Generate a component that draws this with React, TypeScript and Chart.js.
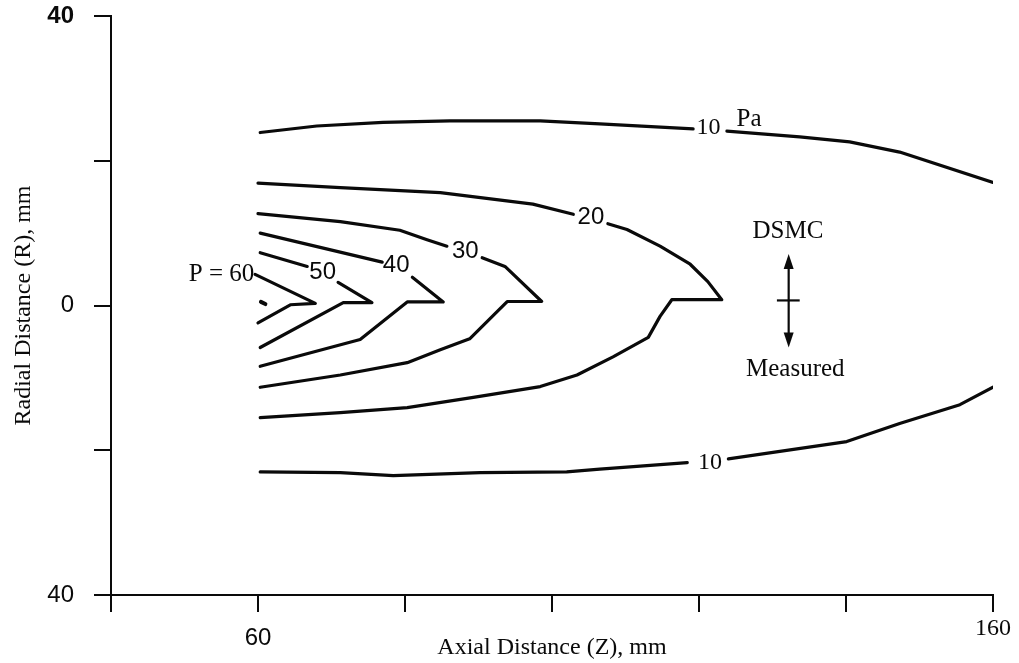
import React, { useEffect, useRef } from "react";
import { Chart, registerables } from "chart.js";

Chart.register(...registerables);

type Pt = [number, number];

// Pressure contours, [axial distance Z (mm), radial distance R (mm)].
// Each contour is broken where its level label sits on the line.
const p10UpperLeft: Pt[] = [[60.3, 23.9], [68.0, 24.8], [77.0, 25.3], [86.1, 25.5], [98.4, 25.5], [106.5, 25.1], [119.2, 24.4]];
const p10UpperRight: Pt[] = [[123.8, 24.1], [133.7, 23.3], [140.5, 22.6], [147.3, 21.2], [160.0, 17.0]];
const p10LowerLeft: Pt[] = [[60.3, -23.0], [71.2, -23.1], [78.4, -23.5], [90.2, -23.1], [102.0, -23.0], [106.5, -22.6], [118.4, -21.7]];
const p10LowerRight: Pt[] = [[124.0, -21.2], [140.1, -18.8], [147.3, -16.3], [155.5, -13.7], [160.0, -11.3]];

const p20Left: Pt[] = [[60.0, 16.9], [71.2, 16.3], [84.8, 15.6], [97.4, 14.0], [102.9, 12.6]];
const p20Right: Pt[] = [[107.6, 11.3], [110.2, 10.5], [114.7, 8.2], [118.8, 5.7], [121.2, 3.3], [123.1, 0.8], [116.3, 0.8], [114.7, -1.5], [113.1, -4.4], [108.3, -7.1], [103.4, -9.6], [98.4, -11.2], [89.3, -12.7], [80.3, -14.1], [71.2, -14.8], [60.3, -15.5]];

const p30Left: Pt[] = [[60.0, 12.7], [71.2, 11.6], [79.3, 10.4], [83.0, 9.1], [85.7, 8.2]];
const p30Right: Pt[] = [[90.5, 6.6], [93.6, 5.4], [98.6, 0.55], [93.9, 0.55], [88.8, -4.6], [84.8, -6.1], [80.3, -7.9], [71.2, -9.6], [60.3, -11.3]];

const p40Left: Pt[] = [[60.3, 10.0], [76.9, 6.0]];
const p40Right: Pt[] = [[81.0, 3.9], [85.2, 0.5], [80.3, 0.5], [73.9, -4.7], [60.3, -8.4]];

const p50Left: Pt[] = [[60.3, 7.3], [66.7, 5.4]];
const p50Right: Pt[] = [[70.9, 3.2], [75.5, 0.4], [71.6, 0.4], [60.3, -5.8]];

const p60: Pt[] = [[59.6, 4.3], [67.8, 0.3], [64.4, 0.1], [60.0, -2.4]];
const p70: Pt[] = [[60.4, 0.5], [61.0, 0.2]];

const contourSegments: Pt[][] = [
  p10UpperLeft, p10UpperRight, p10LowerLeft, p10LowerRight,
  p20Left, p20Right, p30Left, p30Right,
  p40Left, p40Right, p50Left, p50Right, p60, p70,
];

// Axis ticks
const zTicksLabelled = [60, 160];
const rTicksLabelled = [40, 0, -40];

const SANS = "'Liberation Sans', Arial, sans-serif";
const SERIF = "'Liberation Serif', 'Times New Roman', serif";
const INK = "#0a0a0a";

// Contour level labels placed on the lines
type Label = { text: string; z: number; r: number; font: string; align?: CanvasTextAlign };
const levelLabels: Label[] = [
  { text: "10", z: 121.3, r: 24.6, font: `24px ${SERIF}` },
  { text: "Pa", z: 126.8, r: 25.7, font: `25px ${SERIF}` },
  { text: "10", z: 121.5, r: -21.7, font: `24px ${SERIF}` },
  { text: "20", z: 105.3, r: 12.2, font: `24px ${SANS}` },
  { text: "30", z: 88.2, r: 7.5, font: `24px ${SANS}` },
  { text: "40", z: 78.8, r: 5.6, font: `24px ${SANS}` },
  { text: "50", z: 68.8, r: 4.6, font: `24px ${SANS}` },
  { text: "P = 60", z: 59.5, r: 4.3, font: `25px ${SERIF}`, align: "right" },
  { text: "DSMC", z: 132.1, r: 10.2, font: `25px ${SERIF}` },
  { text: "Measured", z: 133.1, r: -8.9, font: `25px ${SERIF}` },
];

// Direction marker between the DSMC (upper) and measured (lower) halves
const markerZ = 132.2;
const markerTopR = 7.1;
const markerBottomR = -5.8;
const markerBarR = 0.7;
const markerBarZ: [number, number] = [130.6, 133.7];

const annotations = {
  id: "contourAnnotations",
  afterDatasetsDraw(chart: any) {
    const { ctx, scales } = chart;
    const xs = scales.x;
    const ys = scales.y;
    ctx.save();
    ctx.fillStyle = INK;
    ctx.strokeStyle = INK;
    ctx.textBaseline = "middle";
    for (const l of levelLabels) {
      ctx.font = l.font;
      ctx.textAlign = l.align ?? "center";
      ctx.fillText(l.text, xs.getPixelForValue(l.z), ys.getPixelForValue(l.r));
    }
    const mx = xs.getPixelForValue(markerZ);
    const top = ys.getPixelForValue(markerTopR);
    const bot = ys.getPixelForValue(markerBottomR);
    ctx.lineWidth = 2.2;
    ctx.beginPath();
    ctx.moveTo(mx, top + 8);
    ctx.lineTo(mx, bot - 8);
    ctx.stroke();
    ctx.beginPath();
    ctx.moveTo(mx, top);
    ctx.lineTo(mx - 5, top + 15);
    ctx.lineTo(mx + 5, top + 15);
    ctx.closePath();
    ctx.fill();
    ctx.beginPath();
    ctx.moveTo(mx, bot);
    ctx.lineTo(mx - 5, bot - 15);
    ctx.lineTo(mx + 5, bot - 15);
    ctx.closePath();
    ctx.fill();
    const by = ys.getPixelForValue(markerBarR);
    ctx.beginPath();
    ctx.moveTo(xs.getPixelForValue(markerBarZ[0]), by);
    ctx.lineTo(xs.getPixelForValue(markerBarZ[1]), by);
    ctx.stroke();
    ctx.restore();
  },
};

// Fix the axis box sizes and drop label overflow padding so the plot area is exact
const fixBox = (size: { width?: number; height?: number }) => (s: any) => {
  if (size.width !== undefined) s.width = size.width;
  if (size.height !== undefined) s.height = size.height;
  s.paddingTop = 0;
  s.paddingBottom = 0;
  s.paddingLeft = 0;
  s.paddingRight = 0;
};

export default function App() {
  const canvasRef = useRef<HTMLCanvasElement | null>(null);

  useEffect(() => {
    const canvas = canvasRef.current;
    if (!canvas) return;
    const chart = new Chart(canvas, {
      type: "line",
      data: {
        datasets: contourSegments.map((seg, i) => ({
          label: `contour-${i}`,
          data: seg.map(([z, r]) => ({ x: z, y: r })),
          borderColor: INK,
          borderWidth: seg === p70 ? 4 : 3.2,
          pointRadius: 0,
          fill: false,
          tension: 0,
          borderCapStyle: "round",
          borderJoinStyle: "round",
        })),
      },
      options: {
        animation: false,
        responsive: false,
        devicePixelRatio: 1,
        layout: { padding: { top: 16, right: 26, bottom: 0, left: 0 } },
        plugins: {
          legend: { display: false },
          tooltip: { enabled: false },
        },
        scales: {
          x: {
            type: "linear",
            min: 40,
            max: 160,
            afterFit: fixBox({ height: 68 }),
            ticks: {
              stepSize: 20,
              autoSkip: false,
              maxRotation: 0,
              color: INK,
              padding: 12,
              callback: (v: any) => (zTicksLabelled.includes(Number(v)) ? String(v) : ""),
              font: (c: any) =>
                c.tick && c.tick.value === 160
                  ? { family: SERIF, size: 24, lineHeight: 0.4 }
                  : { family: SANS, size: 24 },
            },
            grid: {
              display: true,
              drawOnChartArea: false,
              drawTicks: true,
              tickLength: 17,
              color: INK,
              lineWidth: 2,
            },
            border: { display: true, color: INK, width: 2 },
            title: {
              display: true,
              text: "Axial Distance (Z), mm",
              color: INK,
              font: { family: SERIF, size: 24 },
              padding: { top: 0, bottom: 1 },
            },
          },
          y: {
            type: "linear",
            min: -40,
            max: 40,
            afterFit: fixBox({ width: 111 }),
            ticks: {
              stepSize: 20,
              autoSkip: false,
              color: INK,
              padding: 20,
              callback: (v: any) =>
                rTicksLabelled.includes(Number(v)) ? String(Math.abs(Number(v))) : "",
              font: (c: any) => ({
                family: SANS,
                size: 24,
                weight: c.tick && c.tick.value === 40 ? "bold" : "normal",
              }),
            },
            grid: {
              display: true,
              drawOnChartArea: false,
              drawTicks: true,
              tickLength: 17,
              color: INK,
              lineWidth: 2,
            },
            border: { display: true, color: INK, width: 2 },
            title: {
              display: true,
              text: "Radial Distance (R), mm",
              color: INK,
              font: { family: SERIF, size: 24 },
              padding: { top: 9, bottom: 0 },
            },
          },
        },
      },
      plugins: [annotations],
    } as any);
    return () => chart.destroy();
  }, []);

  return (
    <div
      style={{
        position: "absolute",
        left: 0,
        top: 0,
        width: 1019,
        height: 663,
        background: "#ffffff",
      }}
    >
      <canvas ref={canvasRef} width={1019} height={663} style={{ display: "block" }} />
    </div>
  );
}
